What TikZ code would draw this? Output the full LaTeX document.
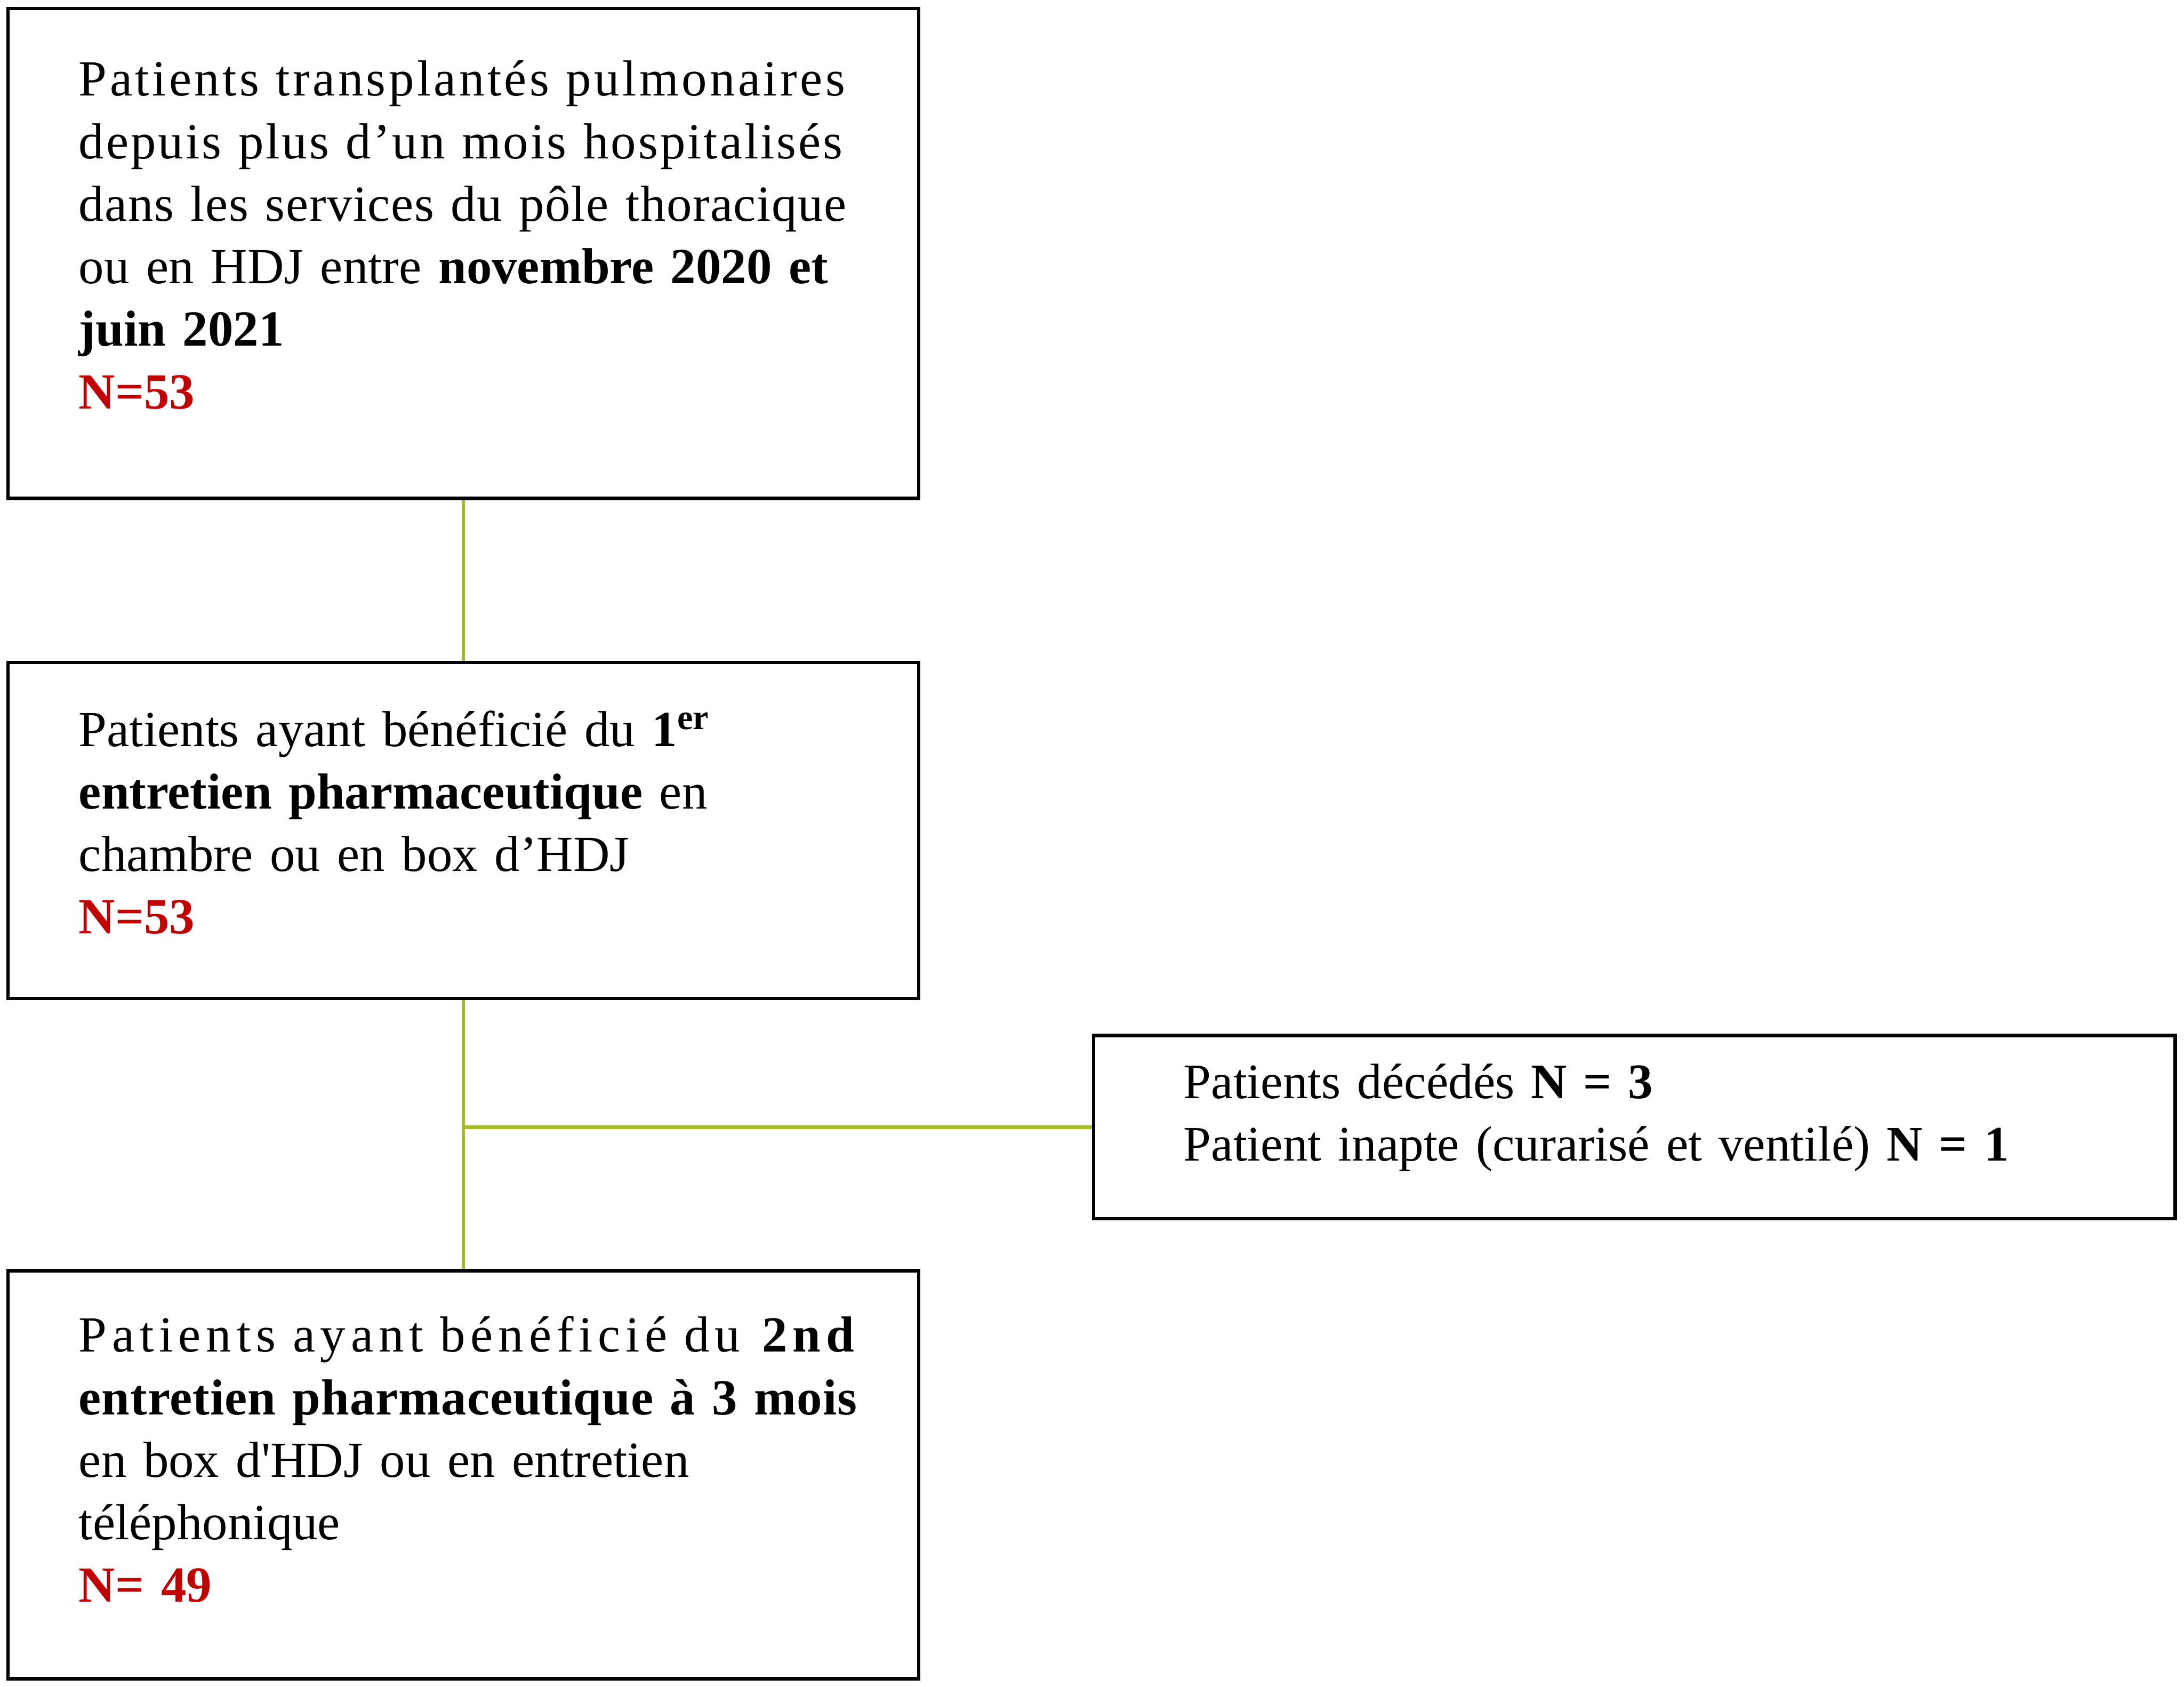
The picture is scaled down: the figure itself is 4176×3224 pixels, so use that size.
\documentclass[tikz,border=0pt]{standalone}
\usepackage{fontspec}
\newfontfamily\garfont{Liberation Serif}
\definecolor{nred}{HTML}{C00000}
\definecolor{linkolive}{HTML}{A6BA2A}

\begin{document}
\begin{tikzpicture}[x=0.01cm, y=-0.01cm,
    box/.style={draw, line width=1.9pt, inner sep=0pt, minimum width=17.4cm},
    boxtext/.style={anchor=north west, inner sep=0pt, align=left, text width=19cm,
        font=\garfont\fontsize{27.5pt}{34pt}\selectfont},
    link/.style={draw=linkolive, line width=1.9pt}]
    \useasboundingbox (0,0) rectangle (4176,3224);

    % boxes
    \node[box, minimum height=9.36cm] (pool) at (886,484.5) {};
    \node[box, minimum height=6.42cm] (first) at (886,1587.5) {};
    \node[box, minimum width=20.67cm, minimum height=3.5cm] (excl) at (3125,2154.5) {};
    \node[box, minimum height=7.79cm] (second) at (886,2819) {};

    % texts
    \node[boxtext] (pooltxt) at ([shift={(138,86)}]pool.north west) {\strut{\addfontfeature{LetterSpace=5.7}Patients transplantés pulmonaires}\\
        {\addfontfeature{LetterSpace=4.2}depuis plus d’un mois hospitalisés}\\
        {\addfontfeature{LetterSpace=1.6}dans les services du pôle thoracique}\\
        ou en HDJ entre \textbf{novembre 2020 et}\\
        \textbf{juin 2021}\\
        \textcolor{nred}{\textbf{N=53}}};
    \node[boxtext] (firsttxt) at ([shift={(138,79)}]first.north west) {\strut Patients ayant bénéficié du \textbf{1\textsuperscript{er}}\\
        \textbf{entretien pharmaceutique} en\\
        chambre ou en box d’HDJ\\
        \textcolor{nred}{\textbf{N=53}}};
    \node[boxtext, font=\garfont\fontsize{27pt}{34pt}\selectfont] (excltxt) at ([shift={(175,39)}]excl.north west) {\strut Patients décédés \textbf{N = 3}\\
        Patient inapte (curarisé et ventilé) \textbf{N = 1}};
    \node[boxtext] (secondtxt) at ([shift={(138,74)}]second.north west) {\strut{\addfontfeature{LetterSpace=10.4}Patients ayant bénéficié du \textbf{2nd}}\\
        {\addfontfeature{LetterSpace=1}\textbf{entretien pharmaceutique à 3 mois}}\\
        en box d'HDJ ou en entretien\\
        téléphonique\\
        \textcolor{nred}{\textbf{N= 49}}};

    % connectors
    \coordinate (split) at (excl.west -| first.south);
    \draw[link] (pool.south) -- (first.north);
    \draw[link] (first.south) -- (second.north);
    \draw[link] (split) -- (excl.west);
\end{tikzpicture}
\end{document}
